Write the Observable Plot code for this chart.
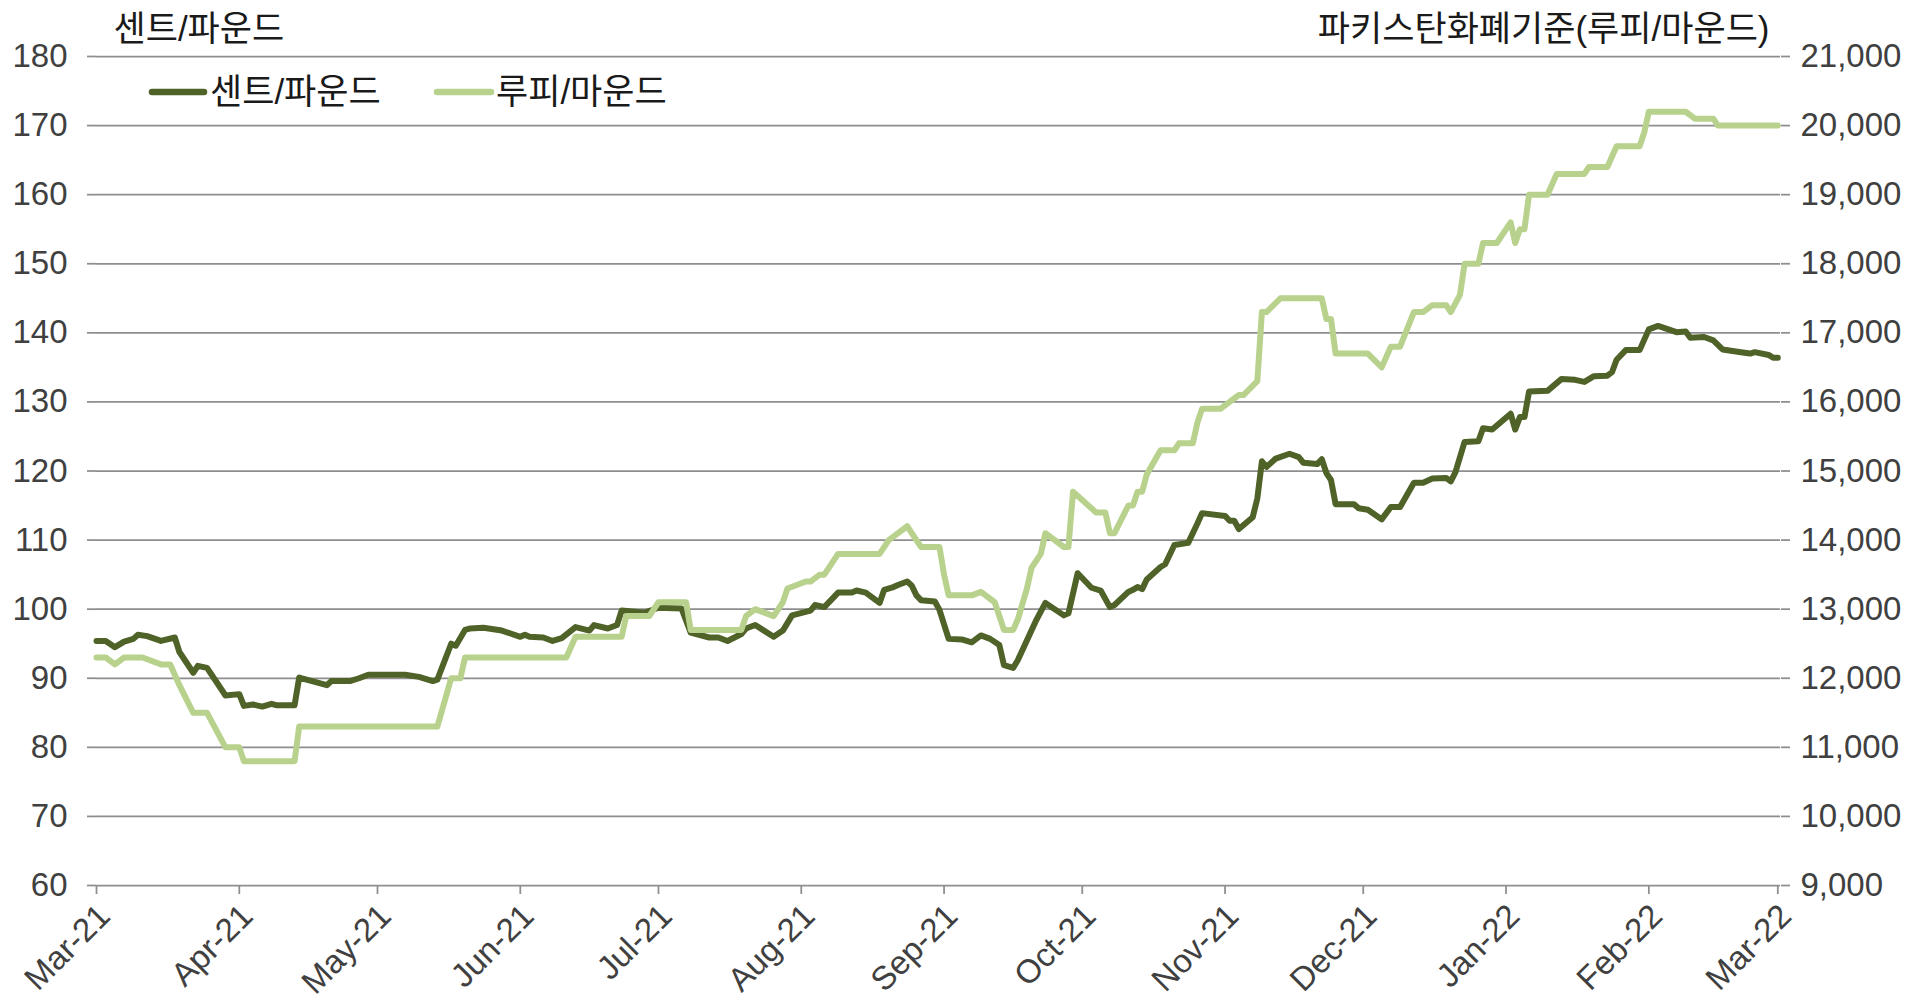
<!DOCTYPE html>
<html>
<head>
<meta charset="utf-8">
<script src="https://cdn.jsdelivr.net/npm/d3@7"></script>
<script src="https://cdn.jsdelivr.net/npm/@observablehq/plot@0.6"></script>
<style>
  html, body { margin: 0; padding: 0; background: #ffffff; }
  #wrap { position: relative; width: 1922px; height: 1001px; overflow: hidden; }
  #legend { position: absolute; left: 0; top: 0; }
  svg text { font-family: "Liberation Sans", "Noto Sans CJK KR", sans-serif; }
</style>
</head>
<body>
<div id="wrap"></div>
<script>
// ---- Data ----
const centLabel = "센트/파운드";
const rupeeLabel = "루피/마운드";
const leftTitle = "센트/파운드";
const rightTitle = "파키스탄화폐기준(루피/마운드)";

const centDates = [
  "2021-03-01","2021-03-03","2021-03-05","2021-03-07","2021-03-09","2021-03-10","2021-03-12","2021-03-15","2021-03-18","2021-03-19",
  "2021-03-22","2021-03-23","2021-03-25","2021-03-29","2021-04-01","2021-04-02","2021-04-04","2021-04-06","2021-04-08","2021-04-09",
  "2021-04-13","2021-04-14","2021-04-20","2021-04-21","2021-04-25","2021-04-27","2021-04-29","2021-05-07","2021-05-10","2021-05-13",
  "2021-05-14","2021-05-17","2021-05-18","2021-05-20","2021-05-21","2021-05-24","2021-05-28","2021-06-01","2021-06-02","2021-06-03",
  "2021-06-06","2021-06-08","2021-06-10","2021-06-13","2021-06-16","2021-06-17","2021-06-20","2021-06-22","2021-06-23","2021-06-28",
  "2021-07-01","2021-07-06","2021-07-08","2021-07-12","2021-07-14","2021-07-16","2021-07-19","2021-07-20","2021-07-22","2021-07-26",
  "2021-07-28","2021-07-30","2021-08-03","2021-08-04","2021-08-06","2021-08-09","2021-08-12","2021-08-13","2021-08-15","2021-08-18",
  "2021-08-19","2021-08-21","2021-08-22","2021-08-24","2021-08-25","2021-08-26","2021-08-27","2021-08-30","2021-08-31","2021-09-02",
  "2021-09-05","2021-09-07","2021-09-09","2021-09-11","2021-09-13","2021-09-14","2021-09-16","2021-09-17","2021-09-19","2021-09-21",
  "2021-09-23","2021-09-27","2021-09-28","2021-09-30","2021-10-03","2021-10-05","2021-10-07","2021-10-08","2021-10-11","2021-10-12",
  "2021-10-13","2021-10-14","2021-10-15","2021-10-18","2021-10-19","2021-10-21","2021-10-24","2021-10-26","2021-10-27","2021-11-01",
  "2021-11-02","2021-11-03","2021-11-04","2021-11-07","2021-11-08","2021-11-09","2021-11-10","2021-11-12","2021-11-15","2021-11-17",
  "2021-11-18","2021-11-21","2021-11-22","2021-11-23","2021-11-24","2021-11-25","2021-11-29","2021-11-30","2021-12-02","2021-12-05",
  "2021-12-07","2021-12-09","2021-12-12","2021-12-14","2021-12-16","2021-12-19","2021-12-20","2021-12-21","2021-12-23","2021-12-26",
  "2021-12-27","2021-12-29","2022-01-02","2022-01-03","2022-01-04","2022-01-05","2022-01-06","2022-01-10","2022-01-13","2022-01-16",
  "2022-01-18","2022-01-20","2022-01-23","2022-01-24","2022-01-25","2022-01-27","2022-01-30","2022-02-01","2022-02-03","2022-02-07",
  "2022-02-09","2022-02-10","2022-02-13","2022-02-15","2022-02-17","2022-02-21","2022-02-23","2022-02-24","2022-02-27","2022-02-28",
  "2022-03-01"
];
const centValues = [
  95.4,95.4,94.5,95.3,95.7,96.3,96.1,95.4,95.9,93.8,
  90.8,91.8,91.5,87.5,87.7,86.0,86.2,85.9,86.3,86.1,
  86.1,90.1,89.0,89.6,89.6,90.0,90.5,90.5,90.2,89.6,
  89.8,95.0,94.7,97.0,97.2,97.3,96.9,96.0,96.3,96.0,
  95.9,95.4,95.8,97.4,96.9,97.7,97.2,97.7,99.8,99.5,
  100.2,100.1,96.6,95.9,95.9,95.4,96.4,97.2,97.7,96.0,
  96.9,99.1,99.8,100.6,100.3,102.4,102.4,102.7,102.4,100.9,
  102.8,103.2,103.5,104.0,103.4,102.0,101.3,101.1,99.9,95.7,
  95.6,95.2,96.2,95.7,94.8,91.9,91.5,92.6,95.5,98.4,
  100.9,99.1,99.4,105.2,103.1,102.7,100.3,100.6,102.5,102.8,
  103.2,102.9,104.3,106.1,106.5,109.3,109.6,112.4,113.9,113.5,
  112.8,112.8,111.6,113.3,116.0,121.4,120.6,121.8,122.5,122.0,
  121.2,121.0,121.7,119.7,118.7,115.2,115.2,114.6,114.4,113.0,
  114.8,114.8,118.3,118.3,118.9,119.0,118.5,119.8,124.2,124.3,
  126.2,126.0,128.3,126.0,127.8,127.8,131.5,131.6,133.3,133.2,
  132.9,133.7,133.8,134.3,136.1,137.5,137.5,140.5,141.0,140.1,
  140.2,139.3,139.4,138.9,137.6,137.2,137.0,137.2,136.8,136.4,
  136.4
];

const rupeeDates = [
  "2021-03-01","2021-03-03","2021-03-05","2021-03-07","2021-03-11","2021-03-15","2021-03-17","2021-03-19","2021-03-22","2021-03-25",
  "2021-03-29","2021-04-01","2021-04-02","2021-04-13","2021-04-14","2021-05-14","2021-05-17","2021-05-19","2021-05-20","2021-06-11",
  "2021-06-13","2021-06-23","2021-06-24","2021-06-29","2021-07-01","2021-07-07","2021-07-08","2021-07-19","2021-07-20","2021-07-22",
  "2021-07-24","2021-07-26","2021-07-28","2021-07-29","2021-08-02","2021-08-03","2021-08-05","2021-08-06","2021-08-09","2021-08-18",
  "2021-08-20","2021-08-22","2021-08-24","2021-08-26","2021-08-27","2021-08-31","2021-09-01","2021-09-02","2021-09-07","2021-09-09",
  "2021-09-12","2021-09-14","2021-09-16","2021-09-17","2021-09-19","2021-09-20","2021-09-22","2021-09-23","2021-09-27","2021-09-28",
  "2021-09-29","2021-10-04","2021-10-06","2021-10-07","2021-10-08","2021-10-11","2021-10-12","2021-10-13","2021-10-14","2021-10-15",
  "2021-10-18","2021-10-21","2021-10-22","2021-10-25","2021-10-26","2021-10-27","2021-10-31","2021-11-02","2021-11-04","2021-11-05",
  "2021-11-08","2021-11-09","2021-11-10","2021-11-13","2021-11-22","2021-11-23","2021-11-24","2021-11-25","2021-12-02","2021-12-05",
  "2021-12-07","2021-12-09","2021-12-12","2021-12-14","2021-12-16","2021-12-19","2021-12-20","2021-12-22","2021-12-23","2021-12-26",
  "2021-12-27","2021-12-30","2022-01-02","2022-01-03","2022-01-04","2022-01-05","2022-01-06","2022-01-10","2022-01-12","2022-01-18",
  "2022-01-19","2022-01-23","2022-01-25","2022-01-30","2022-01-31","2022-02-01","2022-02-09","2022-02-11","2022-02-15","2022-02-16",
  "2022-03-01"
];
const rupeeValues = [
  12300,12300,12200,12300,12300,12200,12200,11900,11500,11500,
  11000,11000,10800,10800,11300,11300,12000,12000,12300,12300,
  12600,12600,12900,12900,13100,13100,12700,12700,12900,13000,
  12950,12900,13100,13300,13400,13400,13500,13500,13800,13800,
  14000,14100,14200,14000,13900,13900,13500,13200,13200,13250,
  13100,12700,12700,12850,13300,13600,13800,14100,13900,13900,
  14700,14400,14400,14100,14100,14500,14500,14700,14700,14950,
  15300,15300,15400,15400,15700,15900,15900,16000,16100,16100,
  16300,17300,17300,17500,17500,17200,17200,16700,16700,16500,
  16800,16800,17300,17300,17400,17400,17300,17550,18000,18000,
  18300,18300,18600,18300,18500,18500,19000,19000,19300,19300,
  19400,19400,19700,19700,19900,20200,20200,20100,20100,20000,
  20000
];

const leftTicks = [60, 70, 80, 90, 100, 110, 120, 130, 140, 150, 160, 170, 180];
const rightTicks = [9000, 10000, 11000, 12000, 13000, 14000, 15000, 16000, 17000, 18000, 19000, 20000, 21000];
const monthTicks = ["2021-03-01","2021-04-01","2021-05-01","2021-06-01","2021-07-01","2021-08-01","2021-09-01",
                    "2021-10-01","2021-11-01","2021-12-01","2022-01-01","2022-02-01","2022-03-01"];

const darkGreen = "#4F6228";
const lightGreen = "#B8D28D";
const gridGray = "#8E8E8E";
const labelGray = "#404040";

// right axis (rupees) shares the left scale: 9,000 ↔ 60, 21,000 ↔ 180
const toLeft = r => 60 + (r - 9000) / 100;
const fromLeft = v => Math.round(9000 + (v - 60) * 100);

const cent = centDates.map((d, i) => ({date: new Date(d), value: centValues[i]}));
const rupee = rupeeDates.map((d, i) => ({date: new Date(d), value: toLeft(rupeeValues[i])}));
const monthDates = monthTicks.map(d => new Date(d));

const fontStack = '"Liberation Sans", "Noto Sans CJK KR", sans-serif';
const tickFont = 33;
const koFont = 35;

const chart = Plot.plot({
  width: 1922,
  height: 1001,
  marginLeft: 96,
  marginRight: 142,
  marginTop: 56,
  marginBottom: 116,
  style: {fontFamily: fontStack, fontSize: tickFont + "px", background: "#ffffff", color: labelGray, overflow: "visible"},
  x: {type: "utc", domain: [new Date("2021-03-01"), new Date("2022-03-01T14:00:00Z")]},
  y: {domain: [60, 180]},
  marks: [
    Plot.gridY(leftTicks, {stroke: gridGray, strokeOpacity: 1, strokeWidth: 1.75}),
    Plot.axisY(leftTicks, {anchor: "left", label: null, tickSize: 9, tickPadding: 20, line: true,
      stroke: gridGray, strokeWidth: 1.75, fill: labelGray, fontSize: tickFont}),
    Plot.axisY(rightTicks.map(toLeft), {anchor: "right", label: null, tickSize: 9, tickPadding: 11, line: true,
      stroke: gridGray, strokeWidth: 1.75, fill: labelGray, fontSize: tickFont, textAnchor: "start",
      tickFormat: v => d3.format(",")(fromLeft(v))}),
    Plot.axisX(monthDates, {anchor: "bottom", label: null, tickSize: 9, line: true,
      stroke: gridGray, strokeWidth: 1.75, tickFormat: () => ""}),
    Plot.axisX(monthDates, {anchor: "bottom", label: null, tickSize: 0, tickPadding: 25, tickRotate: -45,
      dx: 8, fill: labelGray, fontSize: tickFont, tickFormat: d3.utcFormat("%b-%y")}),
    Plot.lineY(cent, {x: "date", y: "value", stroke: darkGreen, strokeWidth: 6, strokeLinejoin: "round", strokeLinecap: "round"}),
    Plot.lineY(rupee, {x: "date", y: "value", stroke: lightGreen, strokeWidth: 6, strokeLinejoin: "round", strokeLinecap: "round"}),
    Plot.text([leftTitle], {frameAnchor: "top-left", dx: 17, dy: -27, textAnchor: "start", lineAnchor: "middle", fontSize: koFont, fill: "#1a1a1a"}),
    Plot.text([rightTitle], {frameAnchor: "top-right", dx: -11, dy: -27, textAnchor: "end", lineAnchor: "middle", fontSize: koFont, fill: "#1a1a1a"})
  ]
});

const wrap = document.getElementById("wrap");
wrap.appendChild(chart);

// Legend overlay (inside plot area, top-left)
const legendItems = [
  {label: centLabel, color: darkGreen, x0: 152, x1: 204, tx: 210},
  {label: rupeeLabel, color: lightGreen, x0: 437, x1: 491, tx: 496}
];
const lg = d3.select(wrap).append("svg").attr("id", "legend")
  .attr("width", 1922).attr("height", 130)
  .style("position", "absolute").style("left", "0px").style("top", "0px");
for (const it of legendItems) {
  lg.append("line").attr("x1", it.x0).attr("x2", it.x1).attr("y1", 92).attr("y2", 92)
    .attr("stroke", it.color).attr("stroke-width", 6.5).attr("stroke-linecap", "round");
  lg.append("text").attr("x", it.tx).attr("y", 92).attr("dy", "0.35em")
    .attr("font-size", koFont).attr("fill", "#1a1a1a").text(it.label);
}
</script>
</body>
</html>
